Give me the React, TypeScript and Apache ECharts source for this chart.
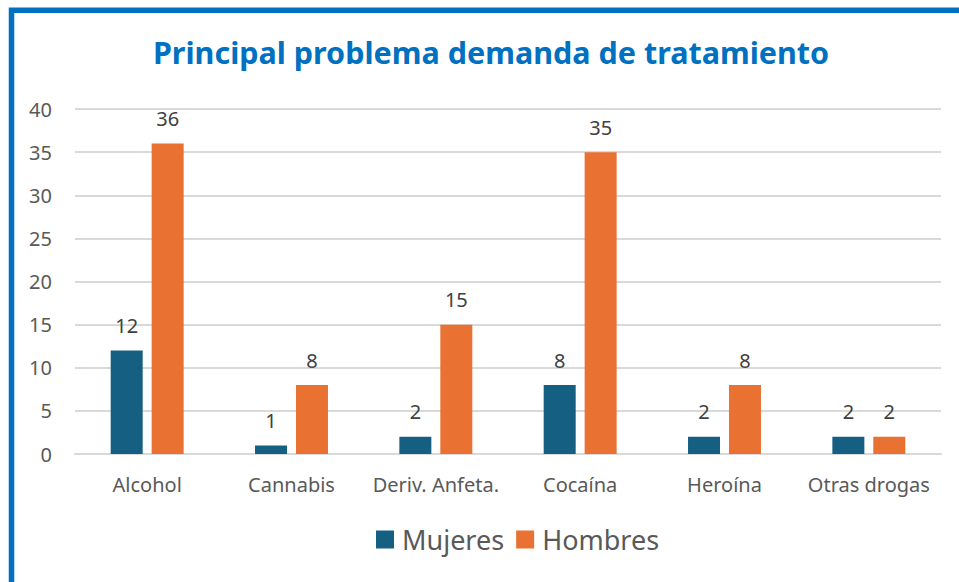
import React, { useEffect, useRef } from "react";
import * as echarts from "echarts";

const categories = ["Alcohol", "Cannabis", "Deriv. Anfeta.", "Cocaína", "Heroína", "Otras drogas"];
const mujeres = [12, 1, 2, 8, 2, 2];
const hombres = [36, 8, 15, 35, 8, 2];
const seriesNames = ["Mujeres", "Hombres"];
const titleText = "Principal problema demanda de tratamiento";

const FONT = "'Noto Sans', sans-serif";

export default function App() {
  const ref = useRef<HTMLDivElement>(null);
  useEffect(() => {
    const chart = echarts.init(ref.current!, undefined, { renderer: "svg" });
    const labelStyle = {
      show: true,
      position: "top" as const,
      distance: 15,
      color: "#404040",
      fontSize: 20,
      fontFamily: FONT,
    };
    chart.setOption({
      animation: false,
      backgroundColor: "#ffffff",
      title: {
        text: titleText,
        left: 486,
        top: 31,
        textAlign: "center",
        textStyle: { color: "#0070C0", fontSize: 30.5, fontWeight: "bold", fontFamily: FONT },
      },
      legend: {
        data: seriesNames,
        top: 521,
        left: 371,
        itemWidth: 18,
        itemHeight: 18,
        itemGap: 12,
        icon: "rect",
        textStyle: { color: "#595959", fontSize: 27, fontFamily: FONT, padding: [0, 0, 0, 3] },
      },
      grid: { left: 75, right: 18, top: 109, bottom: 128, containLabel: false },
      xAxis: {
        type: "category",
        data: categories,
        axisLine: { show: true, lineStyle: { color: "#D9D9D9", width: 2 } },
        axisTick: { show: false },
        axisLabel: { color: "#595959", fontSize: 20, fontFamily: FONT, margin: 20, interval: 0 },
      },
      yAxis: {
        type: "value",
        min: 0,
        max: 40,
        interval: 5,
        axisLine: { show: false },
        axisTick: { show: false },
        splitLine: { lineStyle: { color: "#D9D9D9", width: 2 } },
        axisLabel: { color: "#595959", fontSize: 20, fontFamily: FONT, margin: 23 },
      },
      series: [
        {
          name: seriesNames[0],
          type: "bar",
          data: mujeres,
          barWidth: 32,
          barGap: "28%",
          itemStyle: { color: "#156082" },
          label: labelStyle,
        },
        {
          name: seriesNames[1],
          type: "bar",
          data: hombres,
          barWidth: 32,
          barGap: "28%",
          itemStyle: { color: "#E97132" },
          label: labelStyle,
        },
      ],
      graphic: [
        {
          type: "polyline",
          shape: { points: [[11.5, 582], [11.5, 10.3], [959, 10.3]] },
          style: { stroke: "#0070C0", lineWidth: 5.5, fill: "none" },
          z: 100,
        },
      ],
    });
    return () => chart.dispose();
  }, []);
  return (
    <div
      ref={ref}
      style={{ position: "absolute", left: 0, top: 0, width: 959, height: 582 }}
    />
  );
}
